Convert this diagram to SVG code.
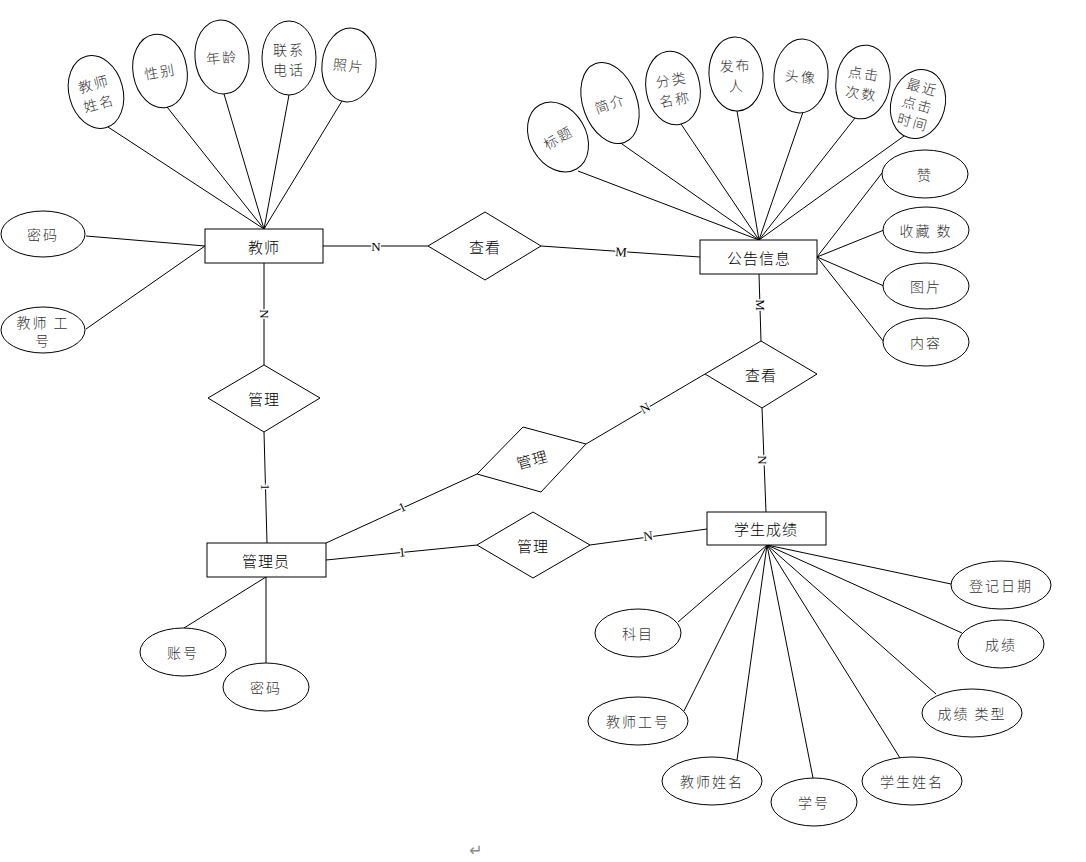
<svg xmlns="http://www.w3.org/2000/svg" width="1086" height="862" viewBox="0 0 1086 862">
<style>
  .bg{fill:#fff}
  .ent{fill:#fff;stroke:#000;stroke-width:1}
  .rel{fill:#fff;stroke:#000;stroke-width:1}
  .att{fill:#fff;stroke:#000;stroke-width:1}
  .ln{stroke:#000;stroke-width:1;fill:none}
  .et{font-family:"Noto Sans CJK SC","Liberation Sans",sans-serif;font-weight:300;font-size:15px;fill:#000;text-anchor:middle;dominant-baseline:central;letter-spacing:1px}
  .at{font-family:"Noto Sans CJK SC","Liberation Sans",sans-serif;font-weight:300;font-size:14px;fill:#333;text-anchor:middle;dominant-baseline:central;letter-spacing:2px}
  .card{font-family:"Liberation Serif",serif;font-size:13px;fill:#000;text-anchor:middle;dominant-baseline:central;stroke:#fff;stroke-width:3px;paint-order:stroke}
</style>
<rect class="bg" x="0" y="0" width="1086" height="862"/>

<g id="connectors">
  <line class="ln" x1="108" y1="127" x2="264" y2="229"/>
  <line class="ln" x1="167" y1="107" x2="264" y2="229"/>
  <line class="ln" x1="224" y1="94" x2="264" y2="229"/>
  <line class="ln" x1="289" y1="95" x2="264" y2="229"/>
  <line class="ln" x1="342" y1="101" x2="264" y2="229"/>
  <line class="ln" x1="86" y1="236" x2="205" y2="246"/>
  <line class="ln" x1="86" y1="329" x2="205" y2="246"/>
  <line class="ln" x1="578" y1="171" x2="759" y2="240"/>
  <line class="ln" x1="622" y1="144" x2="759" y2="240"/>
  <line class="ln" x1="681" y1="124" x2="759" y2="240"/>
  <line class="ln" x1="737" y1="111" x2="759" y2="240"/>
  <line class="ln" x1="803" y1="112" x2="759" y2="240"/>
  <line class="ln" x1="855" y1="118" x2="759" y2="240"/>
  <line class="ln" x1="904" y1="136" x2="759" y2="240"/>
  <line class="ln" x1="882" y1="173" x2="817" y2="257"/>
  <line class="ln" x1="884" y1="230" x2="817" y2="257"/>
  <line class="ln" x1="884" y1="286" x2="817" y2="257"/>
  <line class="ln" x1="884" y1="342" x2="817" y2="257"/>
  <line class="ln" x1="184" y1="628" x2="266" y2="577"/>
  <line class="ln" x1="266" y1="663" x2="266" y2="577"/>
  <line class="ln" x1="951" y1="584" x2="767" y2="545"/>
  <line class="ln" x1="962" y1="633" x2="767" y2="545"/>
  <line class="ln" x1="936" y1="694" x2="767" y2="545"/>
  <line class="ln" x1="900" y1="758" x2="767" y2="545"/>
  <line class="ln" x1="813" y1="778" x2="767" y2="545"/>
  <line class="ln" x1="737" y1="760" x2="767" y2="545"/>
  <line class="ln" x1="684" y1="711" x2="767" y2="545"/>
  <line class="ln" x1="678" y1="622" x2="767" y2="545"/>
  <line class="ln" x1="323" y1="246" x2="428" y2="246"/>
  <line class="ln" x1="541" y1="246" x2="700" y2="257"/>
  <line class="ln" x1="264" y1="263" x2="264" y2="365"/>
  <line class="ln" x1="264" y1="432" x2="267" y2="543"/>
  <line class="ln" x1="759" y1="274" x2="761" y2="341"/>
  <line class="ln" x1="762" y1="408" x2="766" y2="512"/>
  <line class="ln" x1="586" y1="444" x2="705" y2="374"/>
  <line class="ln" x1="326" y1="543" x2="477" y2="474"/>
  <line class="ln" x1="326" y1="560" x2="477" y2="545"/>
  <line class="ln" x1="590" y1="545" x2="707" y2="529"/>
  <text class="card" x="376" y="246">N</text>
  <text class="card" x="621" y="252" transform="rotate(4 621 252)">M</text>
  <text class="card" x="264" y="314" transform="rotate(90 264 314)">N</text>
  <text class="card" x="265" y="487" transform="rotate(90 265 487)">1</text>
  <text class="card" x="760" y="305" transform="rotate(90 760 305)">M</text>
  <text class="card" x="762" y="460" transform="rotate(90 762 460)">N</text>
  <text class="card" x="645" y="408" transform="rotate(-31 645 408)">N</text>
  <text class="card" x="402" y="507" transform="rotate(-25 402 507)">1</text>
  <text class="card" x="402" y="552" transform="rotate(-6 402 552)">1</text>
  <text class="card" x="648" y="536" transform="rotate(-8 648 536)">N</text>
</g>

<g id="teacher"><rect class="ent" x="205" y="229" width="118" height="34"/><text class="et" x="264" y="246">教师</text></g>
<g id="announcement"><rect class="ent" x="700" y="240" width="117" height="34"/><text class="et" x="759" y="257">公告信息</text></g>
<g id="admin"><rect class="ent" x="207" y="543" width="119" height="34"/><text class="et" x="266" y="560">管理员</text></g>
<g id="score"><rect class="ent" x="707" y="512" width="119" height="33"/><text class="et" x="766" y="528">学生成绩</text></g>

<g id="rel-view1"><polygon class="rel" points="428,246 485,212 541,246 485,280"/><text class="et" x="485" y="246">查看</text></g>
<g id="rel-manage1"><polygon class="rel" points="208,398 264,365 320,398 264,432"/><text class="et" x="264" y="398">管理</text></g>
<g id="rel-view2"><polygon class="rel" points="705,374 761,341 817,374 762,408"/><text class="et" x="761" y="374">查看</text></g>
<g id="rel-manage2"><polygon class="rel" points="477,474 523,427 586,444 541,492"/><text class="et" x="532" y="459" transform="rotate(-15 532 459)">管理</text></g>
<g id="rel-manage3"><polygon class="rel" points="477,545 533,512 590,545 533,578"/><text class="et" x="533" y="545">管理</text></g>

<g id="t-name" transform="translate(96 92) rotate(-15)"><ellipse class="att" cx="0" cy="0" rx="27" ry="37"/><text class="at" x="0" y="-9">教师</text><text class="at" x="0" y="11">姓名</text></g>
<g id="t-gender" transform="translate(160 71) rotate(-10)"><ellipse class="att" cx="0" cy="0" rx="27" ry="37"/><text class="at" x="0" y="0">性别</text></g>
<g id="t-age" transform="translate(222 57) rotate(-5)"><ellipse class="att" cx="0" cy="0" rx="27" ry="37"/><text class="at" x="0" y="0">年龄</text></g>
<g id="t-phone" transform="translate(289 58)"><ellipse class="att" cx="0" cy="0" rx="27" ry="37"/><text class="at" x="0" y="-9">联系</text><text class="at" x="0" y="11">电话</text></g>
<g id="t-photo" transform="translate(349 65) rotate(6)"><ellipse class="att" cx="0" cy="0" rx="27" ry="37"/><text class="at" x="0" y="0">照片</text></g>
<g id="t-pwd"><ellipse class="att" cx="43" cy="234" rx="42" ry="23"/><text class="at" x="43" y="234">密码</text></g>
<g id="t-id"><ellipse class="att" cx="43" cy="330" rx="42" ry="23"/><text class="at" x="43" y="322">教师 工</text><text class="at" x="43" y="340">号</text></g>

<g id="a-title" transform="translate(558 137) rotate(-30)"><ellipse class="att" cx="0" cy="0" rx="28" ry="37"/><text class="at" x="0" y="0">标题</text></g>
<g id="a-intro" transform="translate(610 103) rotate(-20)"><ellipse class="att" cx="0" cy="0" rx="27" ry="42"/><text class="at" x="0" y="0">简介</text></g>
<g id="a-cat" transform="translate(673 88) rotate(-10)"><ellipse class="att" cx="0" cy="0" rx="27" ry="37"/><text class="at" x="0" y="-9">分类</text><text class="at" x="0" y="11">名称</text></g>
<g id="a-pub" transform="translate(736 74) rotate(-3)"><ellipse class="att" cx="0" cy="0" rx="27" ry="37"/><text class="at" x="0" y="-9">发布</text><text class="at" x="0" y="11">人</text></g>
<g id="a-avatar" transform="translate(801 76) rotate(5)"><ellipse class="att" cx="0" cy="0" rx="27" ry="37"/><text class="at" x="0" y="0">头像</text></g>
<g id="a-clicks" transform="translate(863 82) rotate(8)"><ellipse class="att" cx="0" cy="0" rx="27" ry="37"/><text class="at" x="0" y="-9">点击</text><text class="at" x="0" y="11">次数</text></g>
<g id="a-last" transform="translate(918 104) rotate(15)"><ellipse class="att" cx="0" cy="0" rx="27" ry="35"/><text class="at" x="0" y="-18">最近</text><text class="at" x="0" y="0">点击</text><text class="at" x="0" y="18">时间</text></g>
<g id="a-like"><ellipse class="att" cx="925" cy="174" rx="43" ry="24"/><text class="at" x="925" y="174">赞</text></g>
<g id="a-fav"><ellipse class="att" cx="926" cy="230" rx="43" ry="23"/><text class="at" x="926" y="230">收藏 数</text></g>
<g id="a-img"><ellipse class="att" cx="926" cy="286" rx="43" ry="23"/><text class="at" x="926" y="286">图片</text></g>
<g id="a-content"><ellipse class="att" cx="926" cy="342" rx="43" ry="24"/><text class="at" x="926" y="342">内容</text></g>

<g id="m-account"><ellipse class="att" cx="183" cy="652" rx="43" ry="24"/><text class="at" x="183" y="652">账号</text></g>
<g id="m-pwd"><ellipse class="att" cx="266" cy="687" rx="43" ry="24"/><text class="at" x="266" y="687">密码</text></g>

<g id="s-date"><ellipse class="att" cx="1001" cy="585" rx="50" ry="24"/><text class="at" x="1001" y="585">登记日期</text></g>
<g id="s-score"><ellipse class="att" cx="1001" cy="644" rx="43" ry="24"/><text class="at" x="1001" y="644">成绩</text></g>
<g id="s-type"><ellipse class="att" cx="972" cy="713" rx="50" ry="24"/><text class="at" x="972" y="713">成绩 类型</text></g>
<g id="s-sname"><ellipse class="att" cx="912" cy="781" rx="50" ry="24"/><text class="at" x="912" y="781">学生姓名</text></g>
<g id="s-sno"><ellipse class="att" cx="814" cy="802" rx="43" ry="24"/><text class="at" x="814" y="802">学号</text></g>
<g id="s-tname"><ellipse class="att" cx="712" cy="781" rx="50" ry="24"/><text class="at" x="712" y="781">教师姓名</text></g>
<g id="s-tid"><ellipse class="att" cx="638" cy="721" rx="50" ry="24"/><text class="at" x="638" y="721">教师工号</text></g>
<g id="s-subject"><ellipse class="att" cx="638" cy="633" rx="43" ry="24"/><text class="at" x="638" y="633">科目</text></g>

<text x="476" y="850" font-family="DejaVu Sans,sans-serif" font-size="16" fill="#888" text-anchor="middle" dominant-baseline="central">↵</text>
</svg>
